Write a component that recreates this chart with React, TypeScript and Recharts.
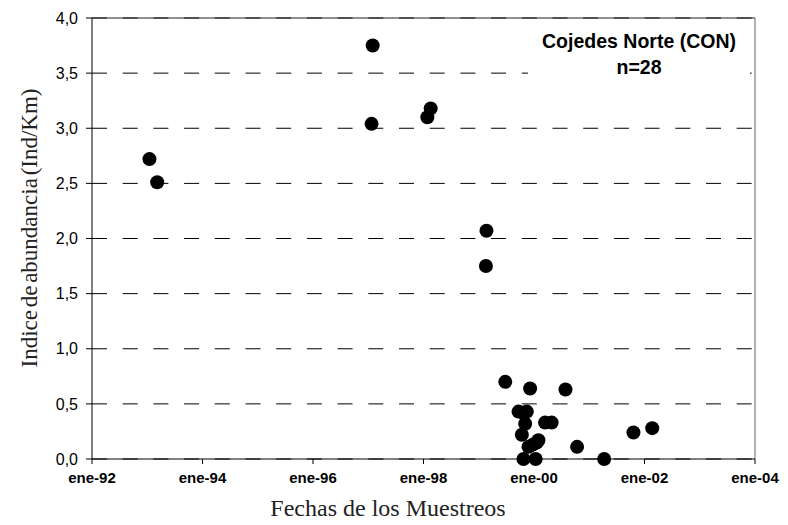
import { ScatterChart, Scatter, XAxis, YAxis, CartesianGrid, ReferenceLine } from "recharts"

// fechas de muestreo (año decimal) y abundancia (Ind/Km)
const fechas = [
  1993.04, 1993.18, 1997.08, 1997.06, 1998.13, 1998.07, 1999.14, 1999.13,
  1999.48, 1999.93, 2000.57, 1999.72, 1999.87, 1999.80, 1999.84, 2000.20,
  2000.32, 1999.78, 2000.08, 1999.90, 1999.98, 2000.78, 1999.81, 2000.03,
  2001.27, 2001.80, 2002.14, 2000.05,
]
const abundancia = [
  2.72, 2.51, 3.75, 3.04, 3.18, 3.10, 2.07, 1.75,
  0.70, 0.64, 0.63, 0.43, 0.43, 0.42, 0.32, 0.33,
  0.33, 0.22, 0.17, 0.11, 0.13, 0.11, 0.0, 0.0,
  0.0, 0.24, 0.28, 0.15,
]
const xTicks = [1992, 1994, 1996, 1998, 2000, 2002, 2004]
const yTicks = [0, 0.5, 1, 1.5, 2, 2.5, 3, 3.5, 4]

const titulo = "Cojedes Norte (CON)"
const subtitulo = "n=28"

const data = fechas.map((f, i) => ({ fecha: f, valor: abundancia[i] }))

const sans = "'Liberation Sans', Arial, sans-serif"
const serif = "'Liberation Serif', 'Times New Roman', serif"

const Punto = (props: any) => <circle cx={props.cx} cy={props.cy} r={7} fill="#000" />

export default function App() {
  return (
    <div style={{ position: "absolute", left: 0, top: 0, width: 788, height: 525, background: "#fff" }}>
      <ScatterChart width={788} height={525} margin={{ top: 18, right: 33, bottom: 36, left: 0 }}>
        <CartesianGrid horizontal vertical={false} stroke="#000" strokeDasharray="15 15.7" />
        <XAxis
          type="number"
          dataKey="fecha"
          domain={[1992, 2004]}
          ticks={xTicks}
          tickFormatter={(v: number) => "ene-" + String(v).slice(2)}
          height={30}
          tickSize={5}
          tickMargin={8}
          stroke="#000"
          tick={{ fill: "#000", fontSize: 15, fontWeight: "bold", fontFamily: sans }}
        />
        <YAxis
          type="number"
          dataKey="valor"
          domain={[0, 4]}
          ticks={yTicks}
          tickFormatter={(v: number) => v.toFixed(1).replace(".", ",")}
          width={92}
          tickSize={6}
          tickMargin={8}
          stroke="#000"
          tick={{ fill: "#000", fontSize: 16, fontFamily: sans }}
        />
        <ReferenceLine y={4} stroke="#222" />
        <ReferenceLine x={2004} stroke="#666" />
        <Scatter data={data} shape={Punto} isAnimationActive={false} />
      </ScatterChart>
      <div style={{ position: "absolute", left: 528, top: 28, width: 222, height: 54, background: "#fff",
        textAlign: "center", fontFamily: sans, fontWeight: "bold", fontSize: 19.5, lineHeight: "26px", color: "#000" }}>
        <div>{titulo}</div>
        <div>{subtitulo}</div>
      </div>
      <div style={{ position: "absolute", left: 388, top: 508, transform: "translate(-50%, -50%)", whiteSpace: "nowrap",
        fontFamily: serif, fontSize: 24, color: "#222" }}>
        Fechas de los Muestreos
      </div>
      <div style={{ position: "absolute", left: 30, top: 228, transform: "translate(-50%, -50%) rotate(-90deg)", whiteSpace: "nowrap",
        fontFamily: serif, fontSize: 23, wordSpacing: -3, color: "#222" }}>
        Indice de abundancia (Ind/Km)
      </div>
    </div>
  )
}
